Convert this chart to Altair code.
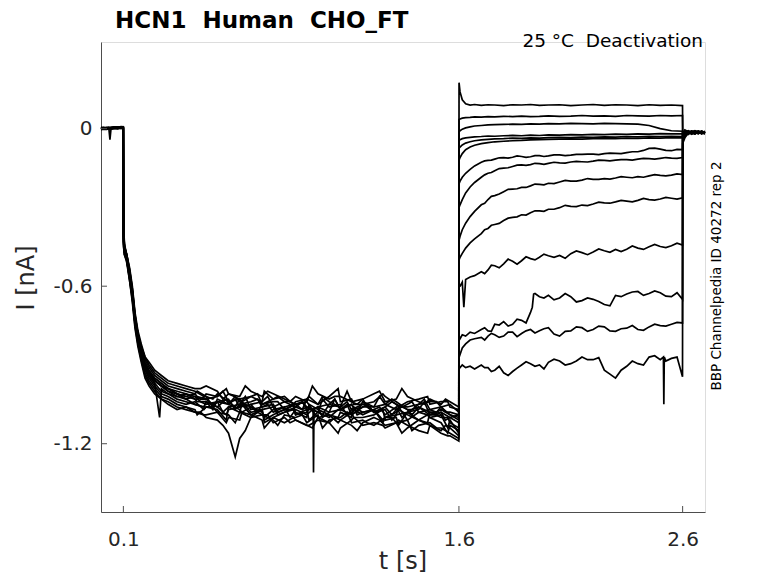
import altair as alt
import pandas as pd

# ---------------- data ----------------
TRACES = list(range(1, 15))

T_HOLD = [0.0, 0.012, 0.025, 0.035, 0.04, 0.045, 0.06, 0.075, 0.09, 0.0995]
T_ACT = [0.1005, 0.105, 0.115, 0.128, 0.14, 0.152, 0.165, 0.18, 0.197, 0.215,
         0.24, 0.27, 0.3, 0.34, 0.38, 0.42, 0.47, 0.52, 0.57, 0.62,
         0.67, 0.72, 0.77, 0.82, 0.87, 0.92, 0.97, 1.02, 1.07, 1.12,
         1.17, 1.22, 1.27, 1.32, 1.37, 1.42, 1.47, 1.52, 1.56, 1.5995]
# extra sampling instants inside the plateau (three staggered sets)
T_ACT_MID = {
    "A": [0.445, 0.545, 0.645, 0.745, 0.845, 0.945, 1.045, 1.145, 1.245, 1.345, 1.445, 1.54],
    "B": [0.43, 0.5, 0.6, 0.7, 0.79, 0.9, 0.99, 1.1, 1.19, 1.3, 1.39, 1.5],
    "C": [0.46, 0.56, 0.63, 0.73, 0.86, 0.93, 1.06, 1.13, 1.26, 1.33, 1.46, 1.55],
}
MID_SET = {1: "A", 2: "B", 3: "C", 4: "A", 5: "A", 6: "B", 7: "C",
           8: "C", 9: "B", 10: "B", 11: "A", 12: "C", 13: "B", 14: "C"}
T_DEA = [1.6005, 1.605, 1.615, 1.63, 1.65, 1.67, 1.7, 1.73, 1.76, 1.8,
         1.84, 1.88, 1.92, 1.96, 2.0, 2.05, 2.1, 2.15, 2.2, 2.25,
         2.3, 2.35, 2.4, 2.45, 2.5, 2.55, 2.5995]
T_DEA_MID = [1.715, 1.745, 1.78, 1.82, 1.86, 1.9, 1.94, 1.98, 2.025, 2.075,
             2.125, 2.175, 2.225, 2.275, 2.325, 2.375, 2.425, 2.475, 2.525, 2.575]
T_POST = [2.6005, 2.61, 2.625, 2.64, 2.655, 2.67, 2.685, 2.7]

HOLD = {
    1: [0.003, 0.005, 0.002, 0.004, 0.003, 0.005, 0.006, 0.004, 0.007, 0.005],
    2: [0.0, 0.002, -0.001, 0.001, 0.0, 0.002, 0.004, 0.006, 0.004, 0.003],
    3: [0.004, 0.002, 0.005, 0.003, -0.042, 0.002, 0.006, 0.004, 0.007, 0.005],
    4: [-0.002, 0.0, 0.002, -0.001, 0.001, 0.0, 0.003, 0.002, 0.004, 0.002],
    5: [0.001, 0.003, 0.0, 0.002, 0.001, 0.003, 0.005, 0.003, 0.006, 0.004],
    6: [-0.004, -0.002, -0.003, -0.001, -0.002, 0.0, 0.002, 0.0, 0.003, 0.001],
    7: [0.002, 0.0, 0.003, 0.001, 0.002, 0.001, 0.004, 0.005, 0.003, 0.006],
    8: [-0.001, 0.001, -0.002, 0.0, -0.001, 0.001, 0.002, 0.001, 0.005, 0.002],
    9: [0.005, 0.003, 0.004, 0.006, 0.004, 0.005, 0.007, 0.006, 0.008, 0.007],
    10: [-0.003, -0.001, 0.0, -0.002, -0.001, -0.002, 0.001, 0.002, 0.0, 0.003],
    11: [0.001, -0.001, 0.002, 0.0, 0.001, 0.002, 0.003, 0.001, 0.004, 0.002],
    12: [0.0, 0.003, 0.001, 0.002, 0.0, 0.001, 0.004, 0.003, 0.005, 0.004],
    13: [0.002, 0.004, 0.003, 0.001, 0.003, 0.002, 0.005, 0.006, 0.004, 0.006],
    14: [-0.002, 0.001, -0.001, 0.0, 0.002, -0.001, 0.002, 0.001, 0.003, 0.001],
}

ACT = {
    1: [-0.40, -0.46, -0.49, -0.55, -0.62, -0.72, -0.79, -0.85, -0.90, -0.93,
        -0.96, -0.98, -1.00, -1.01, -1.03, -1.02, -1.05, -1.04, -1.06, -1.05,
        -1.07, -1.06, -1.08, -1.06, -1.07, -1.09, -1.06, -1.08, -1.07, -1.05,
        -1.08, -1.07, -1.09, -1.06, -1.08, -1.07, -1.09, -1.08, -1.10, -1.09],
    2: [-0.38, -0.45, -0.48, -0.54, -0.61, -0.71, -0.78, -0.83, -0.88, -0.91,
        -0.94, -0.96, -0.98, -0.99, -1.00, -1.01, -1.02, -1.01, -1.04, -1.03,
        -1.02, -1.05, -1.03, -1.04, -1.06, -1.03, -1.05, -1.04, -1.06, -1.04,
        -1.03, -1.06, -1.05, -1.04, -1.07, -1.05, -1.04, -1.06, -1.05, -1.08],
    3: [-0.43, -0.47, -0.50, -0.57, -0.64, -0.74, -0.81, -0.87, -0.92, -0.95,
        -0.98, -1.01, -1.02, -1.04, -1.05, -1.04, -1.06, -1.07, -1.06, -1.08,
        -1.09, -1.07, -1.10, -1.08, -1.09, -1.08, -1.10, -1.09, -1.11, -1.08,
        -1.10, -1.09, -1.11, -1.10, -1.08, -1.11, -1.10, -1.12, -1.13, -1.15],
    4: [-0.36, -0.44, -0.48, -0.53, -0.60, -0.70, -0.77, -0.82, -0.87, -0.89,
        -0.92, -0.94, -0.96, -0.97, -0.98, -0.99, -0.98, -1.00, -1.01, -1.02,
        -1.00, -1.02, -1.01, -1.03, -1.02, -1.04, -1.01, -1.03, -1.02, -1.04,
        -1.03, -1.01, -1.04, -1.03, -1.02, -1.04, -1.03, -1.05, -1.04, -1.06],
    5: [-0.44, -0.48, -0.50, -0.58, -0.65, -0.75, -0.82, -0.88, -0.94, -0.97,
        -1.00, -1.03, -1.04, -1.06, -1.07, -1.08, -1.10, -1.11, -1.16, -1.18,
        -1.10, -1.09, -1.12, -1.10, -1.11, -1.13, -1.10, -1.12, -1.11, -1.13,
        -1.12, -1.10, -1.13, -1.12, -1.14, -1.11, -1.13, -1.15, -1.14, -1.17],
    6: [-0.41, -0.46, -0.49, -0.56, -0.63, -0.73, -0.80, -0.85, -0.90, -0.93,
        -0.95, -0.97, -0.99, -1.01, -1.02, -1.03, -1.02, -1.04, -1.05, -1.04,
        -1.06, -1.05, -1.04, -1.07, -1.05, -1.06, -1.08, -1.05, -1.06, -1.07,
        -1.05, -1.08, -1.06, -1.07, -1.05, -1.08, -1.07, -1.06, -1.09, -1.10],
    7: [-0.42, -0.47, -0.49, -0.56, -0.63, -0.73, -0.80, -0.86, -0.91, -0.94,
        -0.97, -0.99, -1.01, -1.02, -1.03, -1.05, -1.04, -1.06, -1.05, -1.07,
        -1.06, -1.08, -1.07, -1.06, -1.09, -1.07, -1.08, -1.10, -1.07, -1.09,
        -1.08, -1.07, -1.10, -1.08, -1.09, -1.11, -1.08, -1.10, -1.12, -1.14],
    8: [-0.37, -0.45, -0.48, -0.54, -0.61, -0.71, -0.78, -0.83, -0.87, -0.90,
        -0.93, -0.95, -0.97, -0.98, -0.99, -1.00, -1.01, -1.02, -1.01, -1.03,
        -1.02, -1.04, -1.03, -1.02, -1.04, -1.03, -1.05, -1.02, -1.04, -1.03,
        -1.05, -1.04, -1.02, -1.05, -1.04, -1.03, -1.05, -1.04, -1.06, -1.07],
    9: [-0.43, -0.48, -0.50, -0.57, -0.64, -0.74, -0.81, -0.87, -0.93, -0.96,
        -0.99, -1.02, -1.03, -1.05, -1.06, -1.07, -1.06, -1.08, -1.09, -1.08,
        -1.10, -1.09, -1.11, -1.09, -1.10, -1.12, -1.09, -1.11, -1.10, -1.12,
        -1.11, -1.13, -1.10, -1.12, -1.11, -1.13, -1.12, -1.14, -1.16, -1.18],
    10: [-0.40, -0.46, -0.49, -0.55, -0.62, -0.72, -0.80, -0.85, -0.90, -0.93,
         -0.96, -0.98, -1.00, -1.02, -1.01, -1.03, -1.04, -1.03, -1.05, -1.06,
         -1.05, -1.07, -1.06, -1.08, -1.06, -1.07, -1.06, -1.08, -1.07, -1.09,
         -1.06, -1.08, -1.07, -1.09, -1.08, -1.06, -1.09, -1.08, -1.10, -1.12],
    11: [-0.39, -0.45, -0.48, -0.55, -0.62, -0.72, -0.79, -0.84, -0.89, -0.92,
         -0.95, -0.97, -0.99, -1.00, -1.01, -1.02, -1.03, -1.02, -1.04, -1.03,
         -1.05, -1.04, -1.06, -1.04, -1.05, -1.04, -1.06, -1.05, -1.07, -1.05,
         -1.04, -1.06, -1.05, -1.07, -1.06, -1.05, -1.07, -1.06, -1.08, -1.09],
    12: [-0.42, -0.47, -0.50, -0.56, -0.64, -0.74, -0.81, -0.86, -0.91, -0.94,
         -0.97, -1.00, -1.01, -1.03, -1.04, -1.05, -1.04, -1.06, -1.07, -1.06,
         -1.08, -1.07, -1.09, -1.07, -1.08, -1.10, -1.07, -1.09, -1.08, -1.10,
         -1.09, -1.07, -1.10, -1.09, -1.11, -1.08, -1.10, -1.09, -1.11, -1.16],
    13: [-0.40, -0.46, -0.49, -0.55, -0.63, -0.73, -0.80, -0.85, -0.90, -0.93,
         -0.96, -0.98, -0.99, -1.01, -1.02, -1.01, -1.03, -1.04, -1.03, -1.05,
         -1.04, -1.06, -1.05, -1.07, -1.05, -1.06, -1.08, -1.06, -1.05, -1.07,
         -1.06, -1.08, -1.06, -1.05, -1.07, -1.06, -1.08, -1.07, -1.09, -1.11],
    14: [-0.45, -0.48, -0.51, -0.58, -0.66, -0.76, -0.83, -0.89, -0.95, -0.98,
         -1.01, -1.03, -1.05, -1.07, -1.06, -1.08, -1.09, -1.08, -1.10, -1.11,
         -1.09, -1.11, -1.10, -1.12, -1.11, -1.13, -1.11, -1.12, -1.14, -1.11,
         -1.13, -1.12, -1.14, -1.12, -1.13, -1.15, -1.13, -1.16, -1.17, -1.19],
}

ACT_MID = {
    1: [-1.04, -1.08, -1.02, -1.05, -1.10, -1.07, -1.03, -1.09, -1.06, -1.10, -1.04, -1.11],
    2: [-1.00, -1.03, -1.06, -1.01, -1.02, -1.07, -1.02, -1.00, -1.06, -1.03, -1.07, -1.04],
    3: [-1.07, -1.11, -1.05, -1.12, -1.07, -1.06, -1.12, -1.10, -1.07, -1.13, -1.09, -1.16],
    4: [-0.99, -1.03, -0.98, -1.00, -1.04, -0.98, -1.02, -1.05, -1.00, -0.99, -1.05, -1.03],
    5: [-1.08, -1.13, -1.15, -1.09, -1.12, -1.14, -1.10, -1.15, -1.11, -1.16, -1.12, -1.13],
    6: [-1.03, -1.06, -1.02, -1.08, -1.04, -1.07, -1.09, -1.04, -1.05, -1.09, -1.04, -1.08],
    7: [-1.06, -1.03, -1.08, -1.10, -1.05, -1.11, -1.07, -1.06, -1.11, -1.07, -1.12, -1.10],
    8: [-1.02, -0.99, -1.04, -1.00, -1.05, -1.02, -0.99, -1.05, -1.01, -1.06, -1.02, -1.04],
    9: [-1.09, -1.06, -1.12, -1.08, -1.13, -1.09, -1.14, -1.08, -1.12, -1.10, -1.15, -1.14],
    10: [-1.04, -1.07, -1.03, -1.08, -1.09, -1.04, -1.10, -1.05, -1.06, -1.11, -1.07, -1.09],
    11: [-1.03, -1.00, -1.06, -1.02, -1.04, -1.07, -1.03, -1.08, -1.02, -1.06, -1.03, -1.08],
    12: [-1.06, -1.09, -1.04, -1.11, -1.07, -1.05, -1.10, -1.07, -1.12, -1.06, -1.09, -1.14],
    13: [-1.02, -1.05, -1.07, -1.03, -1.08, -1.04, -1.03, -1.09, -1.05, -1.04, -1.09, -1.08],
    14: [-1.09, -1.12, -1.08, -1.14, -1.10, -1.13, -1.16, -1.10, -1.13, -1.11, -1.16, -1.17],
}

DEA = {
    1: [0.175, 0.14, 0.11, 0.095, 0.09, 0.092, 0.089, 0.091, 0.09, 0.088,
        0.091, 0.09, 0.092, 0.089, 0.09, 0.091, 0.088, 0.09, 0.092, 0.089,
        0.091, 0.09, 0.088, 0.091, 0.089, 0.09, 0.088],
    2: [0.035, 0.037, 0.04, 0.042, 0.043, 0.045, 0.044, 0.046, 0.045, 0.047,
        0.046, 0.048, 0.046, 0.047, 0.049, 0.047, 0.048, 0.05, 0.048, 0.049,
        0.047, 0.05, 0.049, 0.048, 0.05, 0.049, 0.05],
    3: [-0.012, -0.008, -0.002, 0.003, 0.007, 0.01, 0.012, 0.014, 0.015, 0.016,
        0.017, 0.016, 0.018, 0.017, 0.019, 0.018, 0.02, 0.019, 0.018, 0.02,
        0.019, 0.018, 0.017, 0.012, 0.0, -0.008, -0.01],
    4: [-0.045, -0.042, -0.038, -0.035, -0.033, -0.031, -0.03, -0.028, -0.029, -0.027,
        -0.026, -0.027, -0.025, -0.026, -0.024, -0.025, -0.023, -0.024, -0.022, -0.023,
        -0.021, -0.022, -0.02, -0.021, -0.019, -0.02, -0.019],
    5: [-0.075, -0.07, -0.062, -0.055, -0.05, -0.046, -0.043, -0.041, -0.039, -0.038,
        -0.036, -0.037, -0.035, -0.036, -0.034, -0.033, -0.034, -0.032, -0.033, -0.031,
        -0.032, -0.03, -0.031, -0.029, -0.03, -0.029, -0.03],
    6: [-0.12, -0.11, -0.095, -0.08, -0.07, -0.063, -0.057, -0.053, -0.05, -0.048,
        -0.046, -0.045, -0.043, -0.042, -0.041, -0.04, -0.039, -0.04, -0.038, -0.037,
        -0.038, -0.036, -0.037, -0.035, -0.036, -0.034, -0.035],
    7: [-0.21, -0.2, -0.185, -0.17, -0.155, -0.142, -0.128, -0.121, -0.116, -0.11,
        -0.109, -0.106, -0.107, -0.103, -0.104, -0.1, -0.101, -0.098, -0.097, -0.095,
        -0.094, -0.091, -0.088, -0.075, -0.078, -0.084, -0.08],
    8: [-0.30, -0.29, -0.27, -0.245, -0.222, -0.205, -0.185, -0.17, -0.16, -0.15,
        -0.144, -0.138, -0.137, -0.133, -0.132, -0.13, -0.127, -0.126, -0.124, -0.121,
        -0.12, -0.118, -0.116, -0.114, -0.113, -0.112, -0.11],
    9: [-0.425, -0.41, -0.385, -0.36, -0.335, -0.315, -0.29, -0.27, -0.255, -0.24,
        -0.23, -0.224, -0.218, -0.212, -0.208, -0.203, -0.2, -0.196, -0.193, -0.19,
        -0.188, -0.185, -0.183, -0.18, -0.178, -0.177, -0.175],
    10: [-0.50, -0.49, -0.475, -0.455, -0.435, -0.42, -0.40, -0.38, -0.365, -0.35,
         -0.338, -0.328, -0.32, -0.313, -0.307, -0.301, -0.296, -0.291, -0.287, -0.283,
         -0.279, -0.276, -0.273, -0.27, -0.268, -0.265, -0.263],
    11: [-0.60, -0.60, -0.585, -0.575, -0.565, -0.56, -0.545, -0.538, -0.522, -0.515,
         -0.505, -0.503, -0.495, -0.49, -0.484, -0.483, -0.476, -0.472, -0.47, -0.465,
         -0.46, -0.459, -0.455, -0.45, -0.449, -0.446, -0.443],
    12: [-0.79, -0.80, -0.785, -0.79, -0.775, -0.78, -0.765, -0.77, -0.745, -0.735,
         -0.745, -0.73, -0.70, -0.64, -0.635, -0.645, -0.64, -0.655, -0.65, -0.67,
         -0.635, -0.63, -0.62, -0.628, -0.625, -0.64, -0.65],
    13: [-0.85, -0.86, -0.835, -0.82, -0.805, -0.80, -0.795, -0.79, -0.785, -0.79,
         -0.775, -0.78, -0.765, -0.77, -0.758, -0.79, -0.77, -0.758, -0.765, -0.755,
         -0.772, -0.76, -0.765, -0.755, -0.75, -0.745, -0.74],
    14: [-0.905, -0.91, -0.9, -0.91, -0.905, -0.915, -0.9, -0.91, -0.92, -0.93,
         -0.925, -0.9, -0.895, -0.9, -0.89, -0.885, -0.895, -0.87, -0.88, -0.92,
         -0.95, -0.905, -0.895, -0.87, -0.88, -0.875, -0.945],
}

DEA_MID = {
    7: [-0.123, -0.12, -0.111, -0.112, -0.104, -0.109, -0.103, -0.106, -0.1, -0.103,
        -0.098, -0.097, -0.099, -0.093, -0.095, -0.088, -0.083, -0.074, -0.083, -0.079],
    8: [-0.176, -0.167, -0.152, -0.149, -0.139, -0.14, -0.132, -0.136, -0.128, -0.131,
        -0.125, -0.127, -0.12, -0.123, -0.118, -0.12, -0.113, -0.116, -0.11, -0.113],
    9: [-0.284, -0.258, -0.249, -0.231, -0.229, -0.224, -0.211, -0.214, -0.209, -0.197,
        -0.2, -0.19, -0.193, -0.192, -0.183, -0.187, -0.185, -0.175, -0.18, -0.172],
    10: [-0.385, -0.368, -0.361, -0.341, -0.336, -0.329, -0.313, -0.315, -0.307, -0.292,
         -0.297, -0.293, -0.28, -0.284, -0.273, -0.279, -0.266, -0.272, -0.262, -0.268],
    11: [-0.552, -0.52, -0.53, -0.497, -0.516, -0.488, -0.5, -0.478, -0.49, -0.494,
         -0.466, -0.48, -0.458, -0.471, -0.468, -0.447, -0.46, -0.441, -0.453, -0.436],
    12: [-0.758, -0.772, -0.748, -0.752, -0.726, -0.74, -0.628, -0.645, -0.652, -0.628,
         -0.66, -0.645, -0.658, -0.675, -0.64, -0.622, -0.635, -0.618, -0.638, -0.625],
    13: [-0.805, -0.78, -0.795, -0.775, -0.792, -0.77, -0.778, -0.762, -0.782, -0.772,
         -0.755, -0.772, -0.752, -0.77, -0.762, -0.75, -0.768, -0.745, -0.752, -0.738],
    14: [-0.91, -0.925, -0.905, -0.94, -0.912, -0.888, -0.905, -0.915, -0.878, -0.9,
         -0.885, -0.88, -0.872, -0.935, -0.92, -0.885, -0.9, -0.865, -0.885, -0.87],
}

POST = {
    1: [-0.045, -0.02, -0.012, -0.018, -0.01, -0.016, -0.012, -0.015],
    2: [-0.03, -0.008, -0.015, -0.01, -0.02, -0.012, -0.018, -0.013],
    3: [-0.05, -0.028, -0.02, -0.012, -0.017, -0.011, -0.015, -0.01],
    4: [-0.02, -0.005, -0.012, -0.02, -0.014, -0.019, -0.013, -0.017],
    5: [-0.035, -0.015, -0.008, -0.014, -0.019, -0.012, -0.016, -0.02],
    6: [-0.01, -0.022, -0.016, -0.009, -0.015, -0.02, -0.011, -0.014],
    7: [-0.04, -0.01, -0.018, -0.013, -0.008, -0.014, -0.019, -0.012],
    8: [-0.025, -0.018, -0.009, -0.016, -0.012, -0.009, -0.015, -0.018],
    9: [-0.015, -0.03, -0.014, -0.019, -0.011, -0.017, -0.01, -0.016],
    10: [-0.05, -0.012, -0.02, -0.01, -0.016, -0.013, -0.017, -0.011],
    11: [-0.02, -0.025, -0.011, -0.017, -0.021, -0.01, -0.014, -0.019],
    12: [-0.045, -0.016, -0.022, -0.012, -0.009, -0.018, -0.012, -0.014],
    13: [-0.03, -0.02, -0.013, -0.021, -0.014, -0.011, -0.02, -0.013],
    14: [-0.055, -0.035, -0.017, -0.011, -0.018, -0.015, -0.009, -0.017],
}

# isolated spikes / jumps seen in single sweeps: (trace, t, I)
EXTRA = [(5, 0.6, -1.25), (7, 0.262, -1.10),
         (10, 0.948, -1.07), (10, 0.95, -1.31), (10, 0.952, -1.07),
         (11, 1.622, -0.68), (12, 1.928, -0.68), (12, 1.934, -0.63),
         (14, 2.514, -0.87), (14, 2.516, -1.05), (14, 2.518, -0.87)]

TICK_X = [0.1, 1.6, 2.6]
TICK_Y = [0.0, -0.6, -1.2]

# ---------------- table ----------------
rows = []
for k in TRACES:
    parts = [(T_HOLD, HOLD[k]), (T_ACT, ACT[k]), (T_ACT_MID[MID_SET[k]], ACT_MID[k]),
             (T_DEA, DEA[k]), (T_POST, POST[k])]
    if k in DEA_MID:
        parts.append((T_DEA_MID, DEA_MID[k]))
    for times, vals in parts:
        for t, v in zip(times, vals):
            rows.append({"trace": k, "t": t, "I": v})
for k, t, v in EXTRA:
    rows.append({"trace": k, "t": t, "I": v})
df = pd.DataFrame(rows).sort_values(["trace", "t"]).reset_index(drop=True)

FONT = "DejaVu Sans"
AX = "#4d4d4d"
TXT = "#262626"
W, H = 604, 470

xs = alt.Scale(domain=[0, 2.7], nice=False, zero=False)
ys = alt.Scale(domain=[-1.46, 0.33], nice=False, zero=False)

xaxis = alt.Axis(values=TICK_X, format=".1f", title=None, grid=False, ticks=False, tickSize=0,
                 domainColor=AX, domainWidth=1, labelFontSize=20, labelColor=TXT,
                 labelPadding=17, labelFont=FONT)
yaxis = alt.Axis(values=TICK_Y, title=None, grid=False, ticks=False, tickSize=0,
                 domainColor=AX, domainWidth=1, labelFontSize=20, labelColor=TXT,
                 labelPadding=9, labelFont=FONT,
                 labelExpr="datum.value == 0 ? '0' : (datum.value < 0 ? '-' + format(-datum.value, '.1f') : format(datum.value, '.1f'))")

lines = alt.Chart(df).mark_line(color="black", strokeWidth=1.7).encode(
    x=alt.X("t:Q", scale=xs, axis=xaxis),
    y=alt.Y("I:Q", scale=ys, axis=yaxis),
    detail="trace:N",
    order="t:Q",
)

ytick = alt.Chart(pd.DataFrame({"I": TICK_Y})).mark_rule(color=AX, strokeWidth=1).encode(
    y=alt.Y("I:Q", scale=ys, axis=yaxis), x=alt.value(0), x2=alt.value(6))
xtick = alt.Chart(pd.DataFrame({"t": TICK_X})).mark_rule(color=AX, strokeWidth=1).encode(
    x=alt.X("t:Q", scale=xs, axis=xaxis), y=alt.value(H), y2=alt.value(H - 6))


def label(text, x, y, size, align="center", angle=0, weight="normal", color=TXT):
    return alt.Chart(alt.Data(values=[{"a": 1}])).mark_text(
        text=text, font=FONT, fontSize=size, fontWeight=weight, color=color,
        align=align, baseline="alphabetic", angle=angle,
    ).encode(x=alt.value(x), y=alt.value(y))


title = label("HCN1\u00a0\u00a0Human\u00a0\u00a0CHO_FT", 14, -14, 23, align="left", weight="bold", color="black")
subtitle = label("25 \u00b0C\u00a0\u00a0Deactivation", 602, 5, 18.5, align="right", color="black")
side = label("BBP Channelpedia ID 40272 rep 2", 620, 234, 13.5, angle=270, color="black")
xtitle = label("t [s]", 302, 527, 24)
ytitle = label("I [nA]", -67, 236, 24, angle=270)

chart = alt.layer(lines, ytick, xtick, title, subtitle, side, xtitle, ytitle).properties(
    width=W, height=H,
    autosize=alt.AutoSizeParams(type="none"),
    padding={"left": 93, "top": 34, "right": 65, "bottom": 63},
).configure_view(stroke="transparent").configure(background="white")

chart.save("out.html", embed_options={"renderer": "svg", "actions": False})
